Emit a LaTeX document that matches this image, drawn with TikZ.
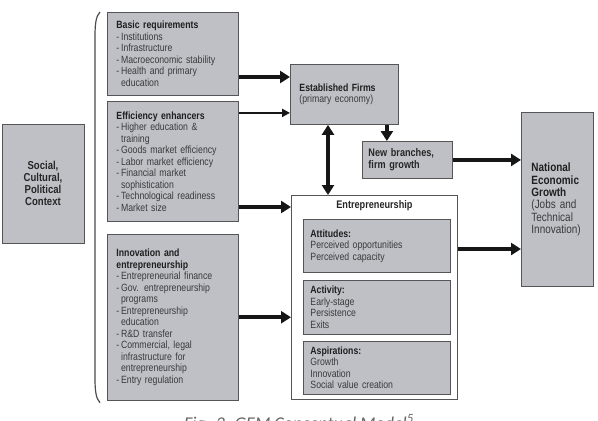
\documentclass[tikz,border=0pt]{standalone}
\usepackage{fontspec}
\setmainfont[FakeStretch=0.83]{Liberation Sans}
\newfontfamily\capfont{Carlito}
\usetikzlibrary{arrows.meta,positioning}
\definecolor{boxfill}{RGB}{191,192,198}
\definecolor{boxline}{RGB}{85,85,88}
\definecolor{txt}{RGB}{58,58,60}
\definecolor{arrcol}{RGB}{22,22,22}
\newcommand{\hd}[1]{\textbf{\color{black!88}#1}}
\newcommand{\cont}{\phantom{-\,}}

\begin{document}
\begin{tikzpicture}[x=1pt,y=1pt,node distance=5pt and 7pt,
  box/.style={draw=boxline,line width=0.9pt,fill=boxfill,align=left,text=txt,font=\fontsize{10.5}{11.5}\selectfont,inner xsep=9pt,inner ysep=3pt},
  col/.style={box,text width=113pt,minimum height=#1},
  sub/.style={box,inner xsep=7pt,text width=133pt,minimum height=#1},
  arr/.style={-{Triangle[length=10pt,width=12pt]},line width=3.6pt,draw=arrcol},
  arrthin/.style={-{Triangle[length=8pt,width=8pt]},line width=2.2pt,draw=arrcol},
  brace/.style={draw=black!70,line width=1.2pt}]
\useasboundingbox (0,0) rectangle (598,-421);
\clip (0,0) rectangle (598,-421);
% left column
\node[col=83pt,anchor=north west] (basic) at (107,-12) {\hd{Basic requirements}\\-\,Institutions\\-\,Infrastructure\\-\,Macroeconomic stability\\-\,Health and primary\\\cont education};
\node[col=120pt,below=5pt of basic] (eff) {\hd{Efficiency enhancers}\\-\,Higher education \&\\\cont training\\-\,Goods market efficiency\\-\,Labor market efficiency\\-\,Financial market\\\cont sophistication\\-\,Technological readiness\\-\,Market size};
\node[col=166pt,below=12pt of eff] (innov) {\hd{Innovation and}\\\hd{entrepreneurship}\\-\,Entrepreneurial finance\\-\,Gov. entrepreneurship\\\cont programs\\-\,Entrepreneurship\\\cont education\\-\,R\&D transfer\\-\,Commercial, legal\\\cont infrastructure for\\\cont entrepreneurship\\-\,Entry regulation};
\node[box,align=center,font=\bfseries\fontsize{11.5}{12}\selectfont,text=black!85,minimum width=82pt,minimum height=119pt] (soc) at (43,-183.5) {Social,\\Cultural,\\Political\\Context};
\coordinate (brtop) at ([xshift=-7pt]basic.north west);
\coordinate (brbot) at ([xshift=-7pt,yshift=-2pt]innov.south west);
\draw[brace] (brtop) .. controls +(-4,-4) and +(0,12) .. ([shift={(-5,-24)}]brtop) -- ([shift={(-5,24)}]brbot) .. controls +(0,-12) and +(-4,4) .. (brbot);
% middle
\node[box,text width=90pt,minimum height=60pt,anchor=north west] (est) at (290,-64) {\hd{Established Firms}\\(primary economy)};
\node[box,inner xsep=6pt,text width=78pt,minimum height=37pt,anchor=north west,font=\bfseries\fontsize{11}{12}\selectfont,text=black!85] (nb) at (362,-141) {New branches,\\firm growth};
\node[draw=boxline,line width=0.9pt,fill=white,minimum width=166pt,minimum height=204pt,anchor=north west] (ent) at (291,-195) {};
\node[below=2pt of ent.north,font=\bfseries\fontsize{11}{12}\selectfont,text=black!85] (enttitle) {Entrepreneurship};
\node[sub=53pt,anchor=north west] (att) at ([shift={(12pt,-24pt)}]ent.north west) {\hd{Attitudes:}\\Perceived opportunities\\Perceived capacity};
\node[sub=54pt,below=7pt of att] (act) {\hd{Activity:}\\Early-stage\\Persistence\\Exits};
\node[sub=53pt,below=6pt of act] (asp) {\hd{Aspirations:}\\Growth\\Innovation\\Social value creation};
% right
\node[box,inner xsep=10pt,text width=52pt,minimum height=174pt,anchor=north west,font=\fontsize{12}{12.3}\selectfont] (nat) at (521,-112) {\hd{National}\\\hd{Economic}\\\hd{Growth}\\(Jobs and\\Technical\\Innovation)};
% arrows
\draw[arr] ([yshift=-13pt]est.north west -| basic.east) -- ([yshift=-13pt]est.north west);
\draw[arrthin] ([yshift=12pt]est.south west -| eff.east) -- ([yshift=12pt]est.south west);
\draw[arr] ([yshift=-12pt]ent.north west -| eff.east) -- ([yshift=-12pt]ent.north west);
\draw[arr] (innov.east) -- (innov.east -| ent.west);
\draw[arr,{Triangle[length=10pt,width=12pt]}-{Triangle[length=10pt,width=12pt]}] ([xshift=38pt]est.south west) -- ([xshift=38pt]est.south west |- ent.north);
\draw[arr] ([xshift=-12pt]est.south east) -- ([xshift=-12pt]est.south east |- nb.north);
\draw[arr] (nb.east) -- (nb.east -| nat.west);
\draw[arr] ([yshift=-54pt]ent.north east) -- ([yshift=-54pt]ent.north east -| nat.west);
% caption
\node[anchor=base,font=\capfont\itshape\fontsize{18}{20}\selectfont,text=black!60] (cap) at (299,-429) {Fig. 2. GEM Conceptual Model\textsuperscript{5}};
\end{tikzpicture}
\end{document}
